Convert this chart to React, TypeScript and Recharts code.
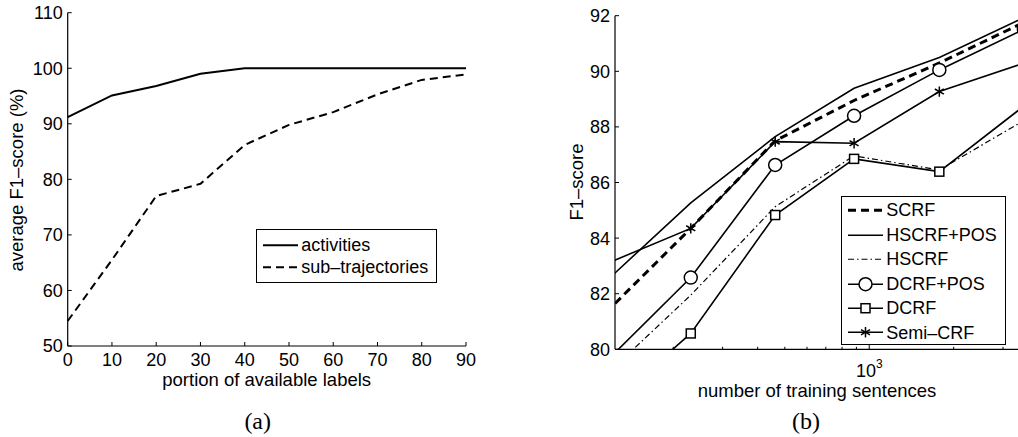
import React from "react";
import { LineChart, Line, XAxis, YAxis, Legend } from "recharts";

const FONT = '"Liberation Sans", Arial, Helvetica, sans-serif';
const SERIF = '"Liberation Serif", "Times New Roman", serif';

// ─── (a) labels vs F1 ─────────────────────────────────────────────────────────
const labelPortion = [0, 10, 20, 30, 40, 50, 60, 70, 80, 90];
const activities = [91.2, 95.1, 96.8, 99.0, 100, 100, 100, 100, 100, 100];
const subTrajectories = [54.5, 65.5, 77.0, 79.2, 86.2, 89.8, 92.1, 95.3, 97.9, 98.9];
const leftXTicks = [0, 10, 20, 30, 40, 50, 60, 70, 80, 90];
const leftYTicks = [50, 60, 70, 80, 90, 100, 110];

// ─── (b) training sentences vs F1 ─────────────────────────────────────────────
const sentences = [115, 231, 462, 883, 1778, 3560];
const scrf = [81.32, 84.35, 87.5, 88.95, 90.3, 91.76];
const hscrfPos = [82.44, 85.27, 87.65, 89.39, 90.5, 91.93];
const hscrf = [79.07, 81.95, 85.13, 86.96, 86.45, 88.23];
const dcrfPos = [79.55, 82.58, 86.63, 88.4, 90.05, 91.51];
const dcrf = [77.88, 80.57, 84.83, 86.85, 86.39, 88.75];
const semiCrf = [83.07, 84.35, 87.47, 87.41, 89.27, 90.29];
const rightXTicks = [200, 300, 400, 500, 600, 700, 800, 900, 1000, 2000, 3000];
const rightYTicks = [80, 82, 84, 86, 88, 90, 92];

const leftData = labelPortion.map((p, i) => ({
  p,
  activities: activities[i],
  sub: subTrajectories[i],
}));

const rightData = sentences.map((n, i) => ({
  n,
  scrf: scrf[i],
  hscrfPos: hscrfPos[i],
  hscrf: hscrf[i],
  dcrfPos: dcrfPos[i],
  dcrf: dcrf[i],
  semi: semiCrf[i],
}));

// ─── ticks (matlab style, pointing inward) ───────────────────────────────────

function LinTickBottom(props: any) {
  const { x, y, payload } = props;
  return (
    <g>
      <line x1={x} x2={x} y1={y} y2={y - 4} stroke="#000" />
      <text x={x} y={y + 20} textAnchor="middle" fontSize={18} fontFamily={FONT} fill="#000">
        {payload.value}
      </text>
    </g>
  );
}

function LinTickTop(props: any) {
  const { x, y } = props;
  return <line x1={x} x2={x} y1={y} y2={y + 4} stroke="#000" />;
}

function TickLeft(props: any) {
  const { x, y, payload } = props;
  return (
    <g>
      <line x1={x} x2={x + 4} y1={y} y2={y} stroke="#000" />
      <text x={x - 5} y={y} dy="0.36em" textAnchor="end" fontSize={18} fontFamily={FONT} fill="#000">
        {payload.value}
      </text>
    </g>
  );
}

function TickRight(props: any) {
  const { x, y } = props;
  return <line x1={x} x2={x - 4} y1={y} y2={y} stroke="#000" />;
}

function LogTickBottom(props: any) {
  const { x, y, payload } = props;
  const major = payload.value === 1000;
  return (
    <g>
      <line x1={x} x2={x} y1={y} y2={y - (major ? 4.5 : 2.5)} stroke="#000" />
      {major && (
        <text x={x} y={y + 27.7} textAnchor="middle" fontSize={18} fontFamily={FONT} fill="#000">
          <tspan>10</tspan>
          <tspan dy={-9} fontSize={12}>3</tspan>
        </text>
      )}
    </g>
  );
}

function LogTickTop(props: any) {
  const { x, y, payload } = props;
  const major = payload.value === 1000;
  return <line x1={x} x2={x} y1={y} y2={y + (major ? 4.5 : 2.5)} stroke="#000" />;
}

// ─── markers ──────────────────────────────────────────────────────────────────

function Star({ cx, cy }: { cx?: number; cy?: number }) {
  if (cx == null || cy == null) return null;
  const r = 5.2;
  return (
    <g stroke="#000" strokeWidth={1.5}>
      <line x1={cx} y1={cy - r} x2={cx} y2={cy + r} />
      <line x1={cx - r * 0.87} y1={cy - r * 0.5} x2={cx + r * 0.87} y2={cy + r * 0.5} />
      <line x1={cx - r * 0.87} y1={cy + r * 0.5} x2={cx + r * 0.87} y2={cy - r * 0.5} />
    </g>
  );
}

function Square({ cx, cy }: { cx?: number; cy?: number }) {
  if (cx == null || cy == null) return null;
  return <rect x={cx - 4.5} y={cy - 4.5} width={9} height={9} fill="#fff" stroke="#000" strokeWidth={1.5} />;
}

function Circle({ cx, cy }: { cx?: number; cy?: number }) {
  if (cx == null || cy == null) return null;
  return <circle cx={cx} cy={cy} r={6.5} fill="#fff" stroke="#000" strokeWidth={1.5} />;
}

// ─── legend box ───────────────────────────────────────────────────────────────

type LegendItem = {
  label: string;
  width: number;
  dash?: string;
  marker?: "circle" | "square" | "star";
};

function LegendBox({ items, w, h, rowH, padTop }: { items: LegendItem[]; w: number; h: number; rowH: number; padTop: number }) {
  return (
    <div
      style={{
        width: w,
        height: h,
        boxSizing: "border-box",
        border: "1.3px solid #000",
        background: "#fff",
        paddingTop: padTop,
        paddingLeft: 6.5,
        fontFamily: FONT,
        fontSize: 18,
        color: "#000",
      }}
    >
      {items.map((it) => (
        <div key={it.label} style={{ height: rowH, display: "flex", alignItems: "center", lineHeight: 1 }}>
          <svg width={35} height={rowH} style={{ flex: "none" }}>
            <line x1={0} x2={35} y1={rowH / 2} y2={rowH / 2} stroke="#000" strokeWidth={it.width} strokeDasharray={it.dash} />
            {it.marker === "circle" && <Circle cx={17.5} cy={rowH / 2} />}
            {it.marker === "square" && <Square cx={17.5} cy={rowH / 2} />}
            {it.marker === "star" && <Star cx={17.5} cy={rowH / 2} />}
          </svg>
          <span style={{ marginLeft: 3, whiteSpace: "nowrap" }}>{it.label}</span>
        </div>
      ))}
    </div>
  );
}

const leftLegend: LegendItem[] = [
  { label: "activities", width: 2 },
  { label: "sub–trajectories", width: 2, dash: "8 5" },
];

const rightLegend: LegendItem[] = [
  { label: "SCRF", width: 3, dash: "8 5" },
  { label: "HSCRF+POS", width: 1.6 },
  { label: "HSCRF", width: 1.2, dash: "6 3 1.5 3" },
  { label: "DCRF+POS", width: 1.6, marker: "circle" },
  { label: "DCRF", width: 1.6, marker: "square" },
  { label: "Semi–CRF", width: 1.6, marker: "star" },
];

// ─── charts ───────────────────────────────────────────────────────────────────

function LabelsChart() {
  return (
    <LineChart width={500} height={437} data={leftData} margin={{ top: 12.7, right: 34, bottom: 61, left: 7.7 }}>
      <XAxis
        dataKey="p"
        type="number"
        domain={[0, 90]}
        ticks={leftXTicks}
        interval={0}
        height={30}
        tickSize={0}
        tickMargin={0}
        tickLine={false}
        axisLine={{ stroke: "#000", strokeWidth: 1.2 }}
        tick={<LinTickBottom />}
        label={{
          content: () => (
            <text x={266.7} y={385.5} textAnchor="middle" fontSize={18.5} fontFamily={FONT} fill="#000">
              portion of available labels
            </text>
          ),
        }}
      />
      <XAxis
        xAxisId="top"
        orientation="top"
        type="number"
        domain={[0, 90]}
        ticks={leftXTicks}
        interval={0}
        height={0}
        tickSize={0}
        tickMargin={0}
        tickLine={false}
        axisLine={{ stroke: "#000", strokeWidth: 1.2 }}
        tick={<LinTickTop />}
      />
      <YAxis
        type="number"
        domain={[50, 110]}
        ticks={leftYTicks}
        interval={0}
        width={60}
        tickSize={0}
        tickMargin={0}
        tickLine={false}
        axisLine={{ stroke: "#000", strokeWidth: 1.2 }}
        tick={<TickLeft />}
        label={{
          content: () => (
            <text transform="translate(23,180) rotate(-90)" textAnchor="middle" fontSize={18.5} fontFamily={FONT} fill="#000">
              average F1–score (%)
            </text>
          ),
        }}
      />
      <YAxis
        yAxisId="right"
        orientation="right"
        type="number"
        domain={[50, 110]}
        ticks={leftYTicks}
        interval={0}
        width={0}
        tickSize={0}
        tickMargin={0}
        tickLine={false}
        axisLine={{ stroke: "#000", strokeWidth: 1.2 }}
        tick={<TickRight />}
      />
      <Legend
        layout="horizontal"
        verticalAlign="middle"
        align="center"
        wrapperStyle={{ left: 255.7, top: 228.7, width: "auto", height: "auto" }}
        content={() => <LegendBox items={leftLegend} w={181} h={54} rowH={22.4} padTop={4} />}
      />
      <Line dataKey="activities" stroke="#000" strokeWidth={2} dot={false} isAnimationActive={false} />
      <Line dataKey="sub" stroke="#000" strokeWidth={2} strokeDasharray="8 5" dot={false} isAnimationActive={false} />
    </LineChart>
  );
}

function SentencesChart() {
  const xDomain = [124, 3420];
  return (
    <LineChart width={560} height={437} data={rightData} margin={{ top: 15.7, right: 41, bottom: 57.7, left: 55 }}>
      <XAxis
        dataKey="n"
        type="number"
        scale="log"
        domain={xDomain}
        allowDataOverflow
        ticks={rightXTicks}
        interval={0}
        height={30}
        tickSize={0}
        tickMargin={0}
        tickLine={false}
        axisLine={{ stroke: "#000", strokeWidth: 1.2 }}
        tick={<LogTickBottom />}
        label={{
          content: () => (
            <text x={317} y={396.5} textAnchor="middle" fontSize={18.5} fontFamily={FONT} fill="#000">
              number of training sentences
            </text>
          ),
        }}
      />
      <XAxis
        xAxisId="top"
        orientation="top"
        type="number"
        scale="log"
        domain={xDomain}
        allowDataOverflow
        ticks={rightXTicks}
        interval={0}
        height={0}
        tickSize={0}
        tickMargin={0}
        tickLine={false}
        axisLine={{ stroke: "#000", strokeWidth: 1.2 }}
        tick={<LogTickTop />}
      />
      <YAxis
        type="number"
        domain={[80, 92]}
        allowDataOverflow
        ticks={rightYTicks}
        interval={0}
        width={60}
        tickSize={0}
        tickMargin={0}
        tickLine={false}
        axisLine={{ stroke: "#000", strokeWidth: 1.2 }}
        tick={<TickLeft />}
        label={{
          content: () => (
            <text transform="translate(83.3,182) rotate(-90)" textAnchor="middle" fontSize={18.5} fontFamily={FONT} fill="#000">
              F1–score
            </text>
          ),
        }}
      />
      <YAxis
        yAxisId="right"
        orientation="right"
        type="number"
        domain={[80, 92]}
        ticks={rightYTicks}
        interval={0}
        width={0}
        tickSize={0}
        tickMargin={0}
        tickLine={false}
        axisLine={{ stroke: "#000", strokeWidth: 1.2 }}
        tick={<TickRight />}
      />
      <Legend
        layout="horizontal"
        verticalAlign="middle"
        align="center"
        wrapperStyle={{ left: 340.7, top: 195.7, width: "auto", height: "auto" }}
        content={() => <LegendBox items={rightLegend} w={165.3} h={149.3} rowH={24.45} padTop={1.5} />}
      />
      <Line dataKey="hscrf" stroke="#000" strokeWidth={1.2} strokeDasharray="6 3 1.5 3" dot={false} isAnimationActive={false} />
      <Line dataKey="hscrfPos" stroke="#000" strokeWidth={1.6} dot={false} isAnimationActive={false} />
      <Line dataKey="scrf" stroke="#000" strokeWidth={3} strokeDasharray="8 5" dot={false} isAnimationActive={false} />
      <Line
        dataKey="dcrfPos"
        stroke="#000"
        strokeWidth={1.6}
        dot={(p: any) => <Circle key={`c-${p.index}`} cx={p.cx} cy={p.cy} />}
        isAnimationActive={false}
      />
      <Line
        dataKey="dcrf"
        stroke="#000"
        strokeWidth={1.6}
        dot={(p: any) => <Square key={`s-${p.index}`} cx={p.cx} cy={p.cy} />}
        isAnimationActive={false}
      />
      <Line
        dataKey="semi"
        stroke="#000"
        strokeWidth={1.6}
        dot={(p: any) => <Star key={`a-${p.index}`} cx={p.cx} cy={p.cy} />}
        isAnimationActive={false}
      />
    </LineChart>
  );
}

export default function App() {
  return (
    <div
      style={{
        position: "absolute",
        left: 0,
        top: 0,
        width: 1018,
        height: 437,
        overflow: "hidden",
        background: "#fff",
      }}
    >
      <div style={{ position: "absolute", left: 0, top: 0 }}>
        <LabelsChart />
      </div>
      <div style={{ position: "absolute", left: 500, top: 0 }}>
        <SentencesChart />
      </div>
      <svg width={1018} height={437} style={{ position: "absolute", left: 0, top: 0, pointerEvents: "none" }}>
        <text x={257.7} y={429} textAnchor="middle" fontSize={24} fontFamily={SERIF} fill="#000">
          (a)
        </text>
        <text x={806} y={429} textAnchor="middle" fontSize={24} fontFamily={SERIF} fill="#000">
          (b)
        </text>
      </svg>
    </div>
  );
}
